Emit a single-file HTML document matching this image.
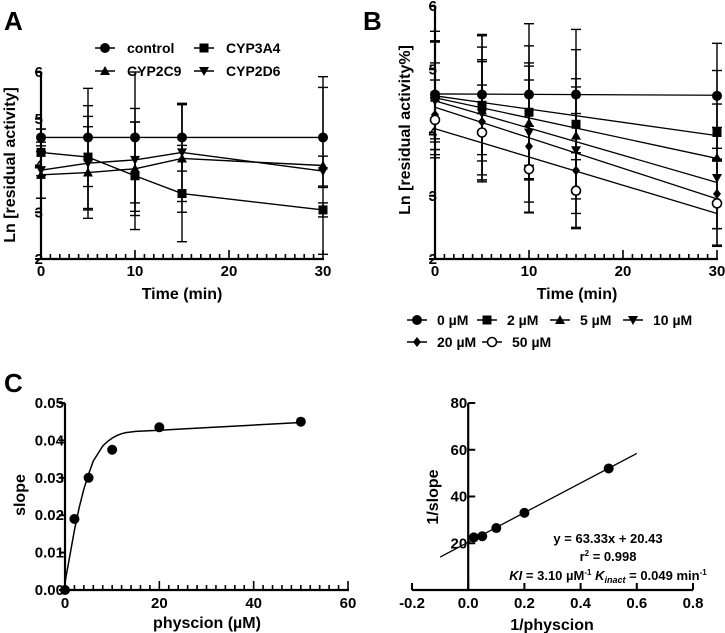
<!DOCTYPE html>
<html><head><meta charset="utf-8"><style>
html,body{margin:0;padding:0;background:#fff;}
svg{display:block;font-family:"Liberation Sans",Arial,sans-serif;font-weight:bold;}
</style></head><body>
<svg id="fig" width="725" height="633" viewBox="0 0 725 633" xmlns="http://www.w3.org/2000/svg">
<text x="4" y="30" font-size="26">A</text>
<text x="363" y="30" font-size="26">B</text>
<text x="4" y="392" font-size="26">C</text>
</svg>
<script>
// ---------- Panel A data ----------
const aTimes = [0, 5, 10, 15, 30];
const aSeriesNames = ["control", "CYP3A4", "CYP2C9", "CYP2D6"];
const aControl = [4.6, 4.6, 4.6, 4.6, 4.6];
const aCYP3A4 = [4.28, 4.18, 3.78, 3.4, 3.05];
const aCYP2C9 = [3.8, 3.85, 3.93, 4.15, 4.0];
const aCYP2D6 = [3.9, 4.05, 4.12, 4.28, 3.88];
const aErrControl = [0.18, 1.05, 1.4, 0.72, 1.07];
const aErrCYP3A4 = [0.5, 1.1, 1.15, 1.03, 0.15];
const aErrCYP2C9 = [0.5, 0.98, 1.0, 1.15, 1.9];
const aErrCYP2D6 = [0.6, 1.0, 1.1, 1.05, 0.32];
const aXTicks = [0, 10, 20, 30];
const aYTicks = [2, 3, 4, 5, 6];
// ---------- Panel B data ----------
const bTimes = [0, 5, 10, 15, 30];
const bConcNames = ["0 µM", "2 µM", "5 µM", "10 µM", "20 µM", "50 µM"];
const b0 = [4.6, 4.6, 4.6, 4.6, 4.58];
const b2 = [4.58, 4.43, 4.32, 4.13, 4.0];
const b5 = [4.55, 4.35, 4.15, 3.95, 3.6];
const b10 = [4.5, 4.3, 4.0, 3.72, 3.28];
const b20 = [4.28, 4.17, 3.78, 3.4, 3.03];
const b50 = [4.2, 4.0, 3.42, 3.08, 2.88];
const bErr0 = [1.0, 0.95, 1.12, 1.03, 0.83];
const bErr2 = [0.85, 1.1, 1.05, 1.18, 0.45];
const bErr5 = [0.9, 0.8, 0.9, 0.9, 1.38];
const bErr10 = [0.6, 1.05, 1.1, 1.0, 0.8];
const bErr20 = [0.55, 0.95, 1.05, 0.9, 0.55];
const bErr50 = [0.35, 0.75, 0.68, 0.6, 0.68];
const bFitIntercept = [4.61, 4.58, 4.55, 4.5, 4.4, 4.06];
const bFitSlope = [0.0007, 0.021, 0.032, 0.043, 0.0483, 0.0447];
const bXTicks = [0, 10, 20, 30];
const bYTicks = [2, 3, 4, 5, 6];
// ---------- Panel C left ----------
const cConc = [0, 2, 5, 10, 20, 50];
const cSlope = [0, 0.019, 0.030, 0.0375, 0.0435, 0.045];
const cFitX = [0, 1, 2, 3, 4, 5, 6, 7, 8, 9, 10, 11, 12, 13, 15, 20, 30, 40, 50];
const cFitY = [0.002, 0.009, 0.016, 0.022, 0.027, 0.031, 0.0345, 0.0365, 0.0385, 0.0397, 0.0406, 0.0413, 0.0418, 0.0421, 0.0424, 0.0427, 0.0434, 0.0441, 0.0448];
const cXTicks = [0, 20, 40, 60];
const cYTicks = [0, 0.01, 0.02, 0.03, 0.04, 0.05];
const cYTickLabels = ["0.00", "0.01", "0.02", "0.03", "0.04", "0.05"];
// ---------- Panel C right ----------
const dInvConc = [0.02, 0.05, 0.1, 0.2, 0.5];
const dInvSlope = [22.5, 23, 26.5, 33, 52];
const dFitSlope = 63.33;
const dFitIntercept = 20.43;
const dFitRange = [-0.1, 0.6];
const dXTicks = [-0.2, 0, 0.2, 0.4, 0.6, 0.8];
const dXTickLabels = ["-0.2", "0.0", "0.2", "0.4", "0.6", "0.8"];
const dYTicks = [20, 40, 60, 80];

const svg = document.getElementById('fig');
const NS = 'http://www.w3.org/2000/svg';
const TICK = 15, TITLE = 16;
function el(tag, attrs, parent) {
  const e = document.createElementNS(NS, tag);
  for (const k in attrs) e.setAttribute(k, attrs[k]);
  (parent || svg).appendChild(e);
  return e;
}
function txt(x, y, s, size, anchor, parent) {
  const t = el('text', {x: x, y: y, 'font-size': size, 'text-anchor': anchor || 'middle'}, parent);
  t.textContent = s;
  return t;
}
function lin(d0, d1, p0, p1) { return v => p0 + (v - d0) * (p1 - p0) / (d1 - d0); }

function marker(type, x, y, parent) {
  let m;
  if (type === 'circle') m = el('circle', {cx: x, cy: y, r: 5, fill: '#000'}, parent);
  else if (type === 'square') m = el('rect', {x: x - 4.5, y: y - 4.5, width: 9, height: 9, fill: '#000'}, parent);
  else if (type === 'tri') m = el('polygon', {points: `${x},${y-5} ${x+5},${y+4} ${x-5},${y+4}`, fill: '#000'}, parent);
  else if (type === 'itri') m = el('polygon', {points: `${x-5},${y-4} ${x+5},${y-4} ${x},${y+5}`, fill: '#000'}, parent);
  else if (type === 'diamond') m = el('polygon', {points: `${x},${y-5} ${x+4},${y} ${x},${y+5} ${x-4},${y}`, fill: '#000'}, parent);
  else m = el('circle', {cx: x, cy: y, r: 4.5, fill: '#fff', stroke: '#000', 'stroke-width': 1.6}, parent);
  return m;
}

function timeAxes(g, sx, sy, xTicks, yTicks, x0, x1, y0, y1, minorStep) {
  el('line', {x1: sx(x0), y1: sy(y0), x2: sx(x1) + 1, y2: sy(y0), stroke: '#000', 'stroke-width': 2.2}, g);
  el('line', {x1: sx(x0), y1: sy(y0) + 1, x2: sx(x0), y2: sy(y1), stroke: '#000', 'stroke-width': 2.2}, g);
  for (let v = x0; v <= x1 + 1e-9; v += minorStep) {
    const major = xTicks.some(t => Math.abs(t - v) < 1e-9);
    el('line', {x1: sx(v), y1: sy(y0), x2: sx(v), y2: sy(y0) - (major ? 9 : 5), stroke: '#000', 'stroke-width': 1.6}, g);
  }
  xTicks.forEach(v => txt(sx(v), sy(y0) + 17, String(v), TICK, 'middle', g));
  yTicks.forEach(v => {
    el('line', {x1: sx(x0) - 6, y1: sy(v), x2: sx(x0), y2: sy(v), stroke: '#000', 'stroke-width': 2}, g);
    txt(sx(x0) + 2, sy(v) + 5, String(v), TICK, 'end', g);
  });
}
function errBars(g, sx, sy, xs, ys, es) {
  xs.forEach((x, i) => {
    const px = sx(x), top = sy(ys[i] + es[i]), bot = sy(ys[i] - es[i]);
    el('line', {x1: px, y1: top, x2: px, y2: bot, stroke: '#000', 'stroke-width': 1.4}, g);
    el('line', {x1: px - 5, y1: top, x2: px + 5, y2: top, stroke: '#000', 'stroke-width': 1.4}, g);
    el('line', {x1: px - 5, y1: bot, x2: px + 5, y2: bot, stroke: '#000', 'stroke-width': 1.4}, g);
  });
}

// ================= Panel A =================
(function () {
  const g = el('g', {});
  
  
  const sx = lin(0, 30, 41, 323), sy = lin(2, 6, 259, 72);
  timeAxes(g, sx, sy, aXTicks, aYTicks, 0, 30, 2, 6, 1);
  const yt = txt(15, 165, 'Ln [residual activity]', TITLE, 'middle', g);
  yt.setAttribute('transform', 'rotate(-90 15 165)');
  
  
  const xt = txt(182, 299, 'Time (min)', TITLE, 'middle', g);
  
  
  const series = [aControl, aCYP3A4, aCYP2C9, aCYP2D6];
  const errs = [aErrControl, aErrCYP3A4, aErrCYP2C9, aErrCYP2D6];
  const mk = ['circle', 'square', 'tri', 'itri'];
  series.forEach((s, k) => errBars(g, sx, sy, aTimes, s, errs[k]));
  series.forEach((s, k) => {
    const pl = el('polyline', {points: aTimes.map((t, i) => sx(t) + ',' + sy(s[i])).join(' '), fill: 'none', stroke: '#000', 'stroke-width': 1.4}, g);
    
    
    aTimes.forEach((t, i) => {
      const m = marker(mk[k], sx(t), sy(s[i]), g);
      
      
    });
  });
  const legPos = [[105, 48], [204, 48], [105, 71], [204, 71]];
  aSeriesNames.forEach((n, k) => {
    const lg = el('g', {}, g);
    
    
    const [x, y] = legPos[k];
    el('line', {x1: x - 10, y1: y, x2: x + 10, y2: y, stroke: '#000', 'stroke-width': 1.6}, lg);
    marker(mk[k], x, y, lg);
    txt(x + 22, y + 5, n, 14, 'start', lg);
  });
})();

// ================= Panel B =================
(function () {
  const g = el('g', {});
  
  
  const sx = lin(0, 30, 435, 717), sy = lin(2, 6, 259, 6);
  timeAxes(g, sx, sy, bXTicks, bYTicks, 0, 30, 2, 6, 1);
  const yt = txt(410, 130, 'Ln [residual activity%]', TITLE, 'middle', g);
  yt.setAttribute('transform', 'rotate(-90 410 130)');
  
  
  const xt = txt(577, 299, 'Time (min)', TITLE, 'middle', g);
  
  
  const series = [b0, b2, b5, b10, b20, b50];
  const errs = [bErr0, bErr2, bErr5, bErr10, bErr20, bErr50];
  const mk = ['circle', 'square', 'tri', 'itri', 'diamond', 'open'];
  series.forEach((s, k) => errBars(g, sx, sy, bTimes, s, errs[k]));
  bFitIntercept.forEach((b, k) => {
    const l = el('line', {x1: sx(0), y1: sy(b), x2: sx(30), y2: sy(b - bFitSlope[k] * 30), stroke: '#000', 'stroke-width': 1.3}, g);
    
    
  });
  series.forEach((s, k) => {
    bTimes.forEach((t, i) => {
      const m = marker(mk[k], sx(t), sy(s[i]), g);
      
      
    });
  });
  const legPos = [[417, 320], [487, 320], [560, 320], [633, 320], [417, 342], [492, 342]];
  bConcNames.forEach((n, k) => {
    const lg = el('g', {}, g);
    
    
    const [x, y] = legPos[k];
    el('line', {x1: x - 10, y1: y, x2: x + 10, y2: y, stroke: '#000', 'stroke-width': 1.6}, lg);
    marker(mk[k], x, y, lg);
    txt(x + 20, y + 5, n, 14, 'start', lg);
  });
})();

// ================= Panel C left =================
(function () {
  const g = el('g', {});
  
  
  const sx = lin(0, 60, 65, 348), sy = lin(0, 0.05, 590, 403);
  el('line', {x1: sx(0), y1: sy(0), x2: sx(60) + 1, y2: sy(0), stroke: '#000', 'stroke-width': 2.2}, g);
  el('line', {x1: sx(0), y1: sy(0) + 1, x2: sx(0), y2: sy(0.05), stroke: '#000', 'stroke-width': 2.2}, g);
  for (let v = 0; v <= 60; v += 2) {
    const major = v % 20 === 0;
    el('line', {x1: sx(v), y1: sy(0), x2: sx(v), y2: sy(0) - (major ? 9 : 5), stroke: '#000', 'stroke-width': 1.6}, g);
  }
  cXTicks.forEach(v => txt(sx(v), sy(0) + 18, String(v), TICK, 'middle', g));
  cYTicks.forEach((v, i) => {
    el('line', {x1: sx(0) - 6, y1: sy(v), x2: sx(0), y2: sy(v), stroke: '#000', 'stroke-width': 2}, g);
    txt(sx(0) - 1, sy(v) + 5, cYTickLabels[i], TICK, 'end', g);
  });
  const yt = txt(25, 495, 'slope', TITLE, 'middle', g);
  yt.setAttribute('transform', 'rotate(-90 25 495)');
  
  
  const xt = txt(207, 628, 'physcion (µM)', TITLE, 'middle', g);
  
  
  const fit = el('polyline', {points: cFitX.map((x, i) => sx(x) + ',' + sy(cFitY[i])).join(' '), fill: 'none', stroke: '#000', 'stroke-width': 1.5}, g);
  
  
  cConc.forEach((c, i) => {
    const m = marker('circle', sx(c), sy(cSlope[i]), g);
    
    
  });
})();

// ================= Panel C right =================
(function () {
  const g = el('g', {});
  
  
  const sx = lin(-0.2, 0.8, 412, 693), sy = lin(0, 80, 590, 403);
  el('line', {x1: sx(-0.2), y1: sy(0), x2: sx(0.8), y2: sy(0), stroke: '#000', 'stroke-width': 2.2}, g);
  el('line', {x1: sx(0), y1: sy(0) + 1, x2: sx(0), y2: sy(80), stroke: '#000', 'stroke-width': 2.2}, g);
  dXTicks.forEach((v, i) => {
    el('line', {x1: sx(v), y1: sy(0), x2: sx(v), y2: sy(0) - 7, stroke: '#000', 'stroke-width': 2}, g);
    txt(sx(v), sy(0) + 18, dXTickLabels[i], TICK, 'middle', g);
  });
  dYTicks.forEach(v => {
    el('line', {x1: sx(0), y1: sy(v), x2: sx(0) + 7, y2: sy(v), stroke: '#000', 'stroke-width': 2}, g);
    txt(sx(0) - 1, sy(v) + 5, String(v), TICK, 'end', g);
  });
  const yt = txt(438, 497, '1/slope', TITLE, 'middle', g);
  yt.setAttribute('transform', 'rotate(-90 438 497)');
  
  
  const xt = txt(552, 630, '1/physcion', TITLE, 'middle', g);
  
  
  const fl = el('line', {x1: sx(dFitRange[0]), y1: sy(dFitSlope * dFitRange[0] + dFitIntercept), x2: sx(dFitRange[1]), y2: sy(dFitSlope * dFitRange[1] + dFitIntercept), stroke: '#000', 'stroke-width': 1.3}, g);
  
  
  dInvConc.forEach((x, i) => {
    const m = marker('circle', sx(x), sy(dInvSlope[i]), g);
    
    
  });
  const ann = el('text', {x: 608, y: 543, 'font-size': 13, 'text-anchor': 'middle'}, g);
  
  
  ann.textContent = 'y = 63.33x + 20.43';
  const r2 = el('text', {x: 608, y: 561, 'font-size': 13, 'text-anchor': 'middle'}, g);
  
  
  r2.innerHTML = 'r<tspan font-size="8" dy="-5">2</tspan><tspan dy="5"> = 0.998</tspan>';
  const kk = el('text', {x: 608, y: 580, 'font-size': 13, 'text-anchor': 'middle'}, g);
  
  
  kk.innerHTML = '<tspan font-style="italic">KI</tspan> = 3.10 µM<tspan font-size="8" dy="-5">-1</tspan><tspan dy="5"> </tspan><tspan font-style="italic">K</tspan><tspan font-style="italic" font-size="9" dy="3">inact</tspan><tspan dy="-3"> = 0.049 min</tspan><tspan font-size="8" dy="-5">-1</tspan>';
})();
</script>
</body></html>
